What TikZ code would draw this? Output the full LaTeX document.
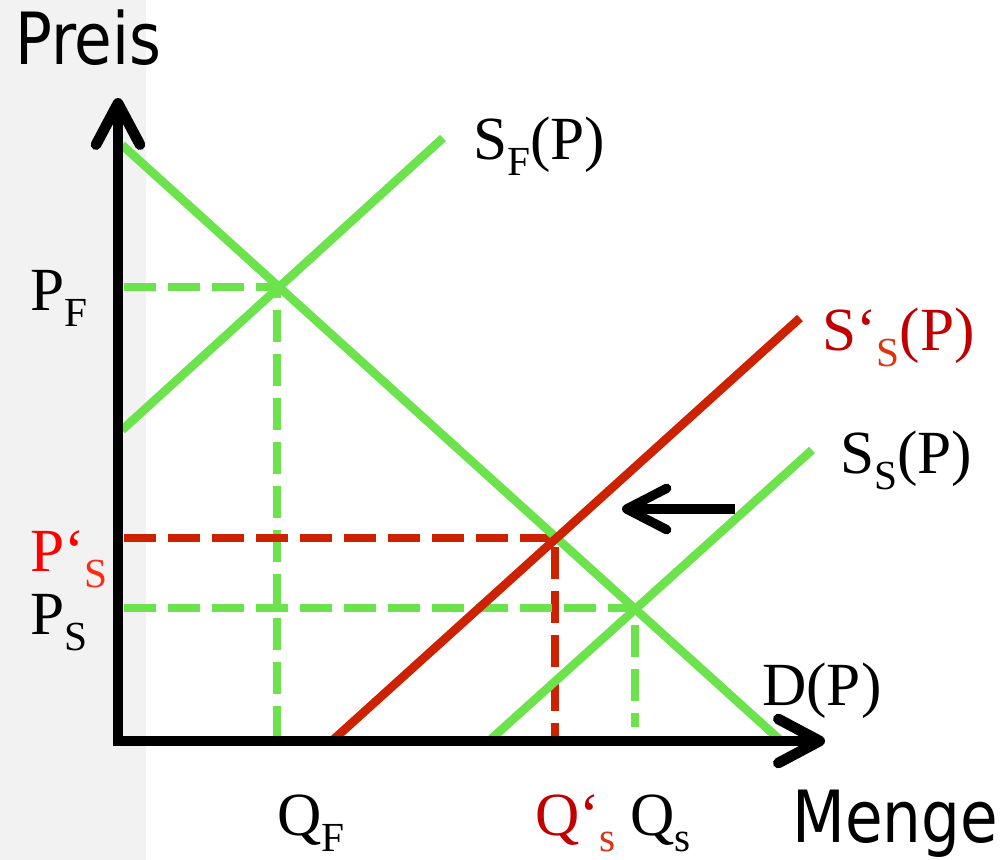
\documentclass[tikz,border=0pt]{standalone}
\usepackage{fontspec}
\setmainfont{Liberation Serif}
\newfontfamily\axisfont[FakeStretch=0.85]{DejaVu Sans}
\usepackage{xcolor}
\usepackage{tikz}
\usetikzlibrary{arrows.meta}

\definecolor{bggray}{RGB}{242,242,242}
\definecolor{curvegreen}{RGB}{108,227,76}
\definecolor{curvered}{RGB}{204,34,0}
\definecolor{labeldarkred}{RGB}{192,0,0}
\definecolor{labelsubred}{RGB}{221,51,17}
\definecolor{labelred}{RGB}{255,0,0}
\definecolor{labelsubbright}{RGB}{255,42,16}

\newcommand{\lowsub}[1]{\raisebox{-12pt}{\fontsize{31}{31}\selectfont #1}}

\begin{document}
\begin{tikzpicture}
	[
	x=0.75pt, y=-0.75pt,
	axis/.style={
		line width=8pt,
		-{Straight Barb[length=31pt,width=33pt,round]}
	},
	curve/.style={
		line width=6.5pt
	},
	guide/.style={
		line width=5.5pt,
		dash pattern=on 24pt off 9pt
	},
	shiftarrow/.style={
		line width=7pt,
		-{Straight Barb[length=30pt,width=31pt,round]}
	},
	lbl/.style={
		anchor=base west,
		inner sep=0pt,
		font=\fontsize{46}{46}\selectfont
	},
	axislbl/.style={
		anchor=base west,
		inner sep=0pt,
		font=\axisfont\fontsize{54}{54}\selectfont
	}
	]
	
	\useasboundingbox (0,0) rectangle (1008,860);
	\fill[bggray] (0,0) rectangle (146,860);
	
	% Curve end points
	\coordinate (d_top) at (122,145);
	\coordinate (d_bottom) at (780,740);
	\coordinate (sf_low) at (122,430);
	\coordinate (sf_high) at (443,138);
	\coordinate (ss_low) at (490,740);
	\coordinate (ss_high) at (812,450);
	\coordinate (ssnew_low) at (333,740);
	\coordinate (ssnew_high) at (800,318);
	
	% Equilibria and their feet on the axes
	\coordinate (eq_f) at (277,287);
	\coordinate (eq_snew) at (555,538);
	\coordinate (eq_s) at (635,608);
	\coordinate (pf_axis) at (124,287);
	\coordinate (psnew_axis) at (124,538);
	\coordinate (ps_axis) at (124,608);
	\coordinate (qf_axis) at (277,740);
	\coordinate (qsnew_axis) at (555,740);
	\coordinate (qs_axis) at (635,727);
	
	% Dashed guides
	\draw[guide, curvegreen] (pf_axis) -- (eq_f) -- (qf_axis);
	\draw[guide, curvered] (psnew_axis) -- (eq_snew) -- (qsnew_axis);
	\draw[guide, curvegreen] (ps_axis) -- (eq_s) -- (qs_axis);
	
	% Supply and demand
	\draw[curve, curvegreen] (d_top) -- (d_bottom);
	\draw[curve, curvegreen] (sf_low) -- (sf_high);
	\draw[curve, curvegreen] (ss_low) -- (ss_high);
	\draw[curve, curvered] (ssnew_low) -- (ssnew_high);
	
	% Shift of the supply curve
	\coordinate (shift_start) at (735,509);
	\coordinate (shift_end) at (622,509);
	\draw[shiftarrow] (shift_start) -- (shift_end);
	
	% Axes
	\coordinate (origin_y) at (118,746);
	\coordinate (top_y) at (118,98);
	\coordinate (origin_x) at (113,741);
	\coordinate (end_x) at (825,741);
	\draw[axis] (origin_y) -- (top_y);
	\draw[axis] (origin_x) -- (end_x);
	
	\node[axislbl] (preis) at (15,64) {Preis};
	\node[axislbl] (menge) at (792,842) {Menge};
	
	% Curve labels
	\node[lbl] (sf_label) at (473,159) {S\lowsub{F}(P)};
	\node[lbl, text=labeldarkred] (ssnew_label) at (822,350)
	{S‘\lowsub{\color{labelsubred}S}(P)};
	\node[lbl] (ss_label) at (840,473) {S\lowsub{S}(P)};
	\node[lbl] (d_label) at (762,705) {D(P)};
	
	% Price labels
	\node[lbl] (pf_label) at (30,310) {P\lowsub{F}};
	\node[lbl, text=labelred] (psnew_label) at (30,571)
	{P‘\lowsub{\color{labelsubbright}S}};
	\node[lbl] (ps_label) at (30,634) {P\lowsub{S}};
	
	% Quantity labels
	\node[lbl] (qf_label) at (277,835) {Q\lowsub{F}};
	\node[lbl, text=labeldarkred] (qsnew_label) at (535,835)
	{Q‘\lowsub{\color{labelsubred}s}};
	\node[lbl] (qs_label) at (630,835) {Q\lowsub{s}};
	
\end{tikzpicture}
\end{document}
